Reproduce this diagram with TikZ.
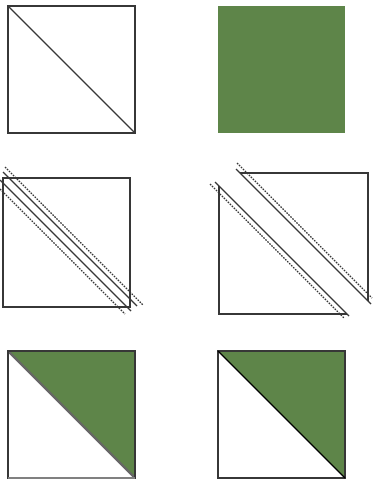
\documentclass[tikz,border=0pt]{standalone}
\definecolor{quiltgreen}{RGB}{94,133,73}
\definecolor{edge}{RGB}{55,55,55}
\tikzset{
  sq/.style={draw=edge, line width=1.7pt},
  cut/.style={draw=edge, line width=1.3pt},
  seam/.style={draw=edge, line width=1.1pt, dash pattern=on 1.6pt off 1.2pt},
  patch/.style={fill=quiltgreen}
}
\begin{document}
\begin{tikzpicture}[x=1pt,y=-1pt]
\useasboundingbox (0,0) rectangle (375,483);
% row 1 left: square with diagonal
\draw[sq] (8,6) rectangle (135,133);
\draw[cut] (8,6) -- (135,133);
% row 1 right: green square
\fill[patch] (218,6) rectangle (345,133);
% row 2 left: square with two cut lines and two seam lines
\draw[sq] (3,178) rectangle (130,307);
\draw[cut] (3,172) -- (137,306);
\draw[cut] (0,180) -- (131,311);
\draw[seam] (5,167) -- (143,305);
\draw[seam] (0,189) -- (125,314);
% row 2 right: two separated triangles
\draw[sq] (240,173) -- (368,173) -- (368,301);
\draw[cut] (236,169) -- (371,304);
\draw[seam] (237,163) -- (372,298);
\draw[sq] (219,186) -- (219,314) -- (347,314);
\draw[cut] (215,182) -- (349,316);
\draw[seam] (210,184) -- (344,318);
% row 3 left
\fill[patch] (8,351) -- (135,351) -- (135,478) -- cycle;
\draw[draw=gray!80!black, line width=2.2pt] (8,351) -- (135,478);
\draw[sq] (8,351) rectangle (135,478);
\draw[draw=gray, line width=2pt] (8,478) -- (135,478);
% row 3 right
\fill[patch] (218,351) -- (345,351) -- (345,478) -- cycle;
\draw[sq] (218,351) rectangle (345,478);
\draw[cut, draw=black] (218,351) -- (345,478);
\end{tikzpicture}
\end{document}
